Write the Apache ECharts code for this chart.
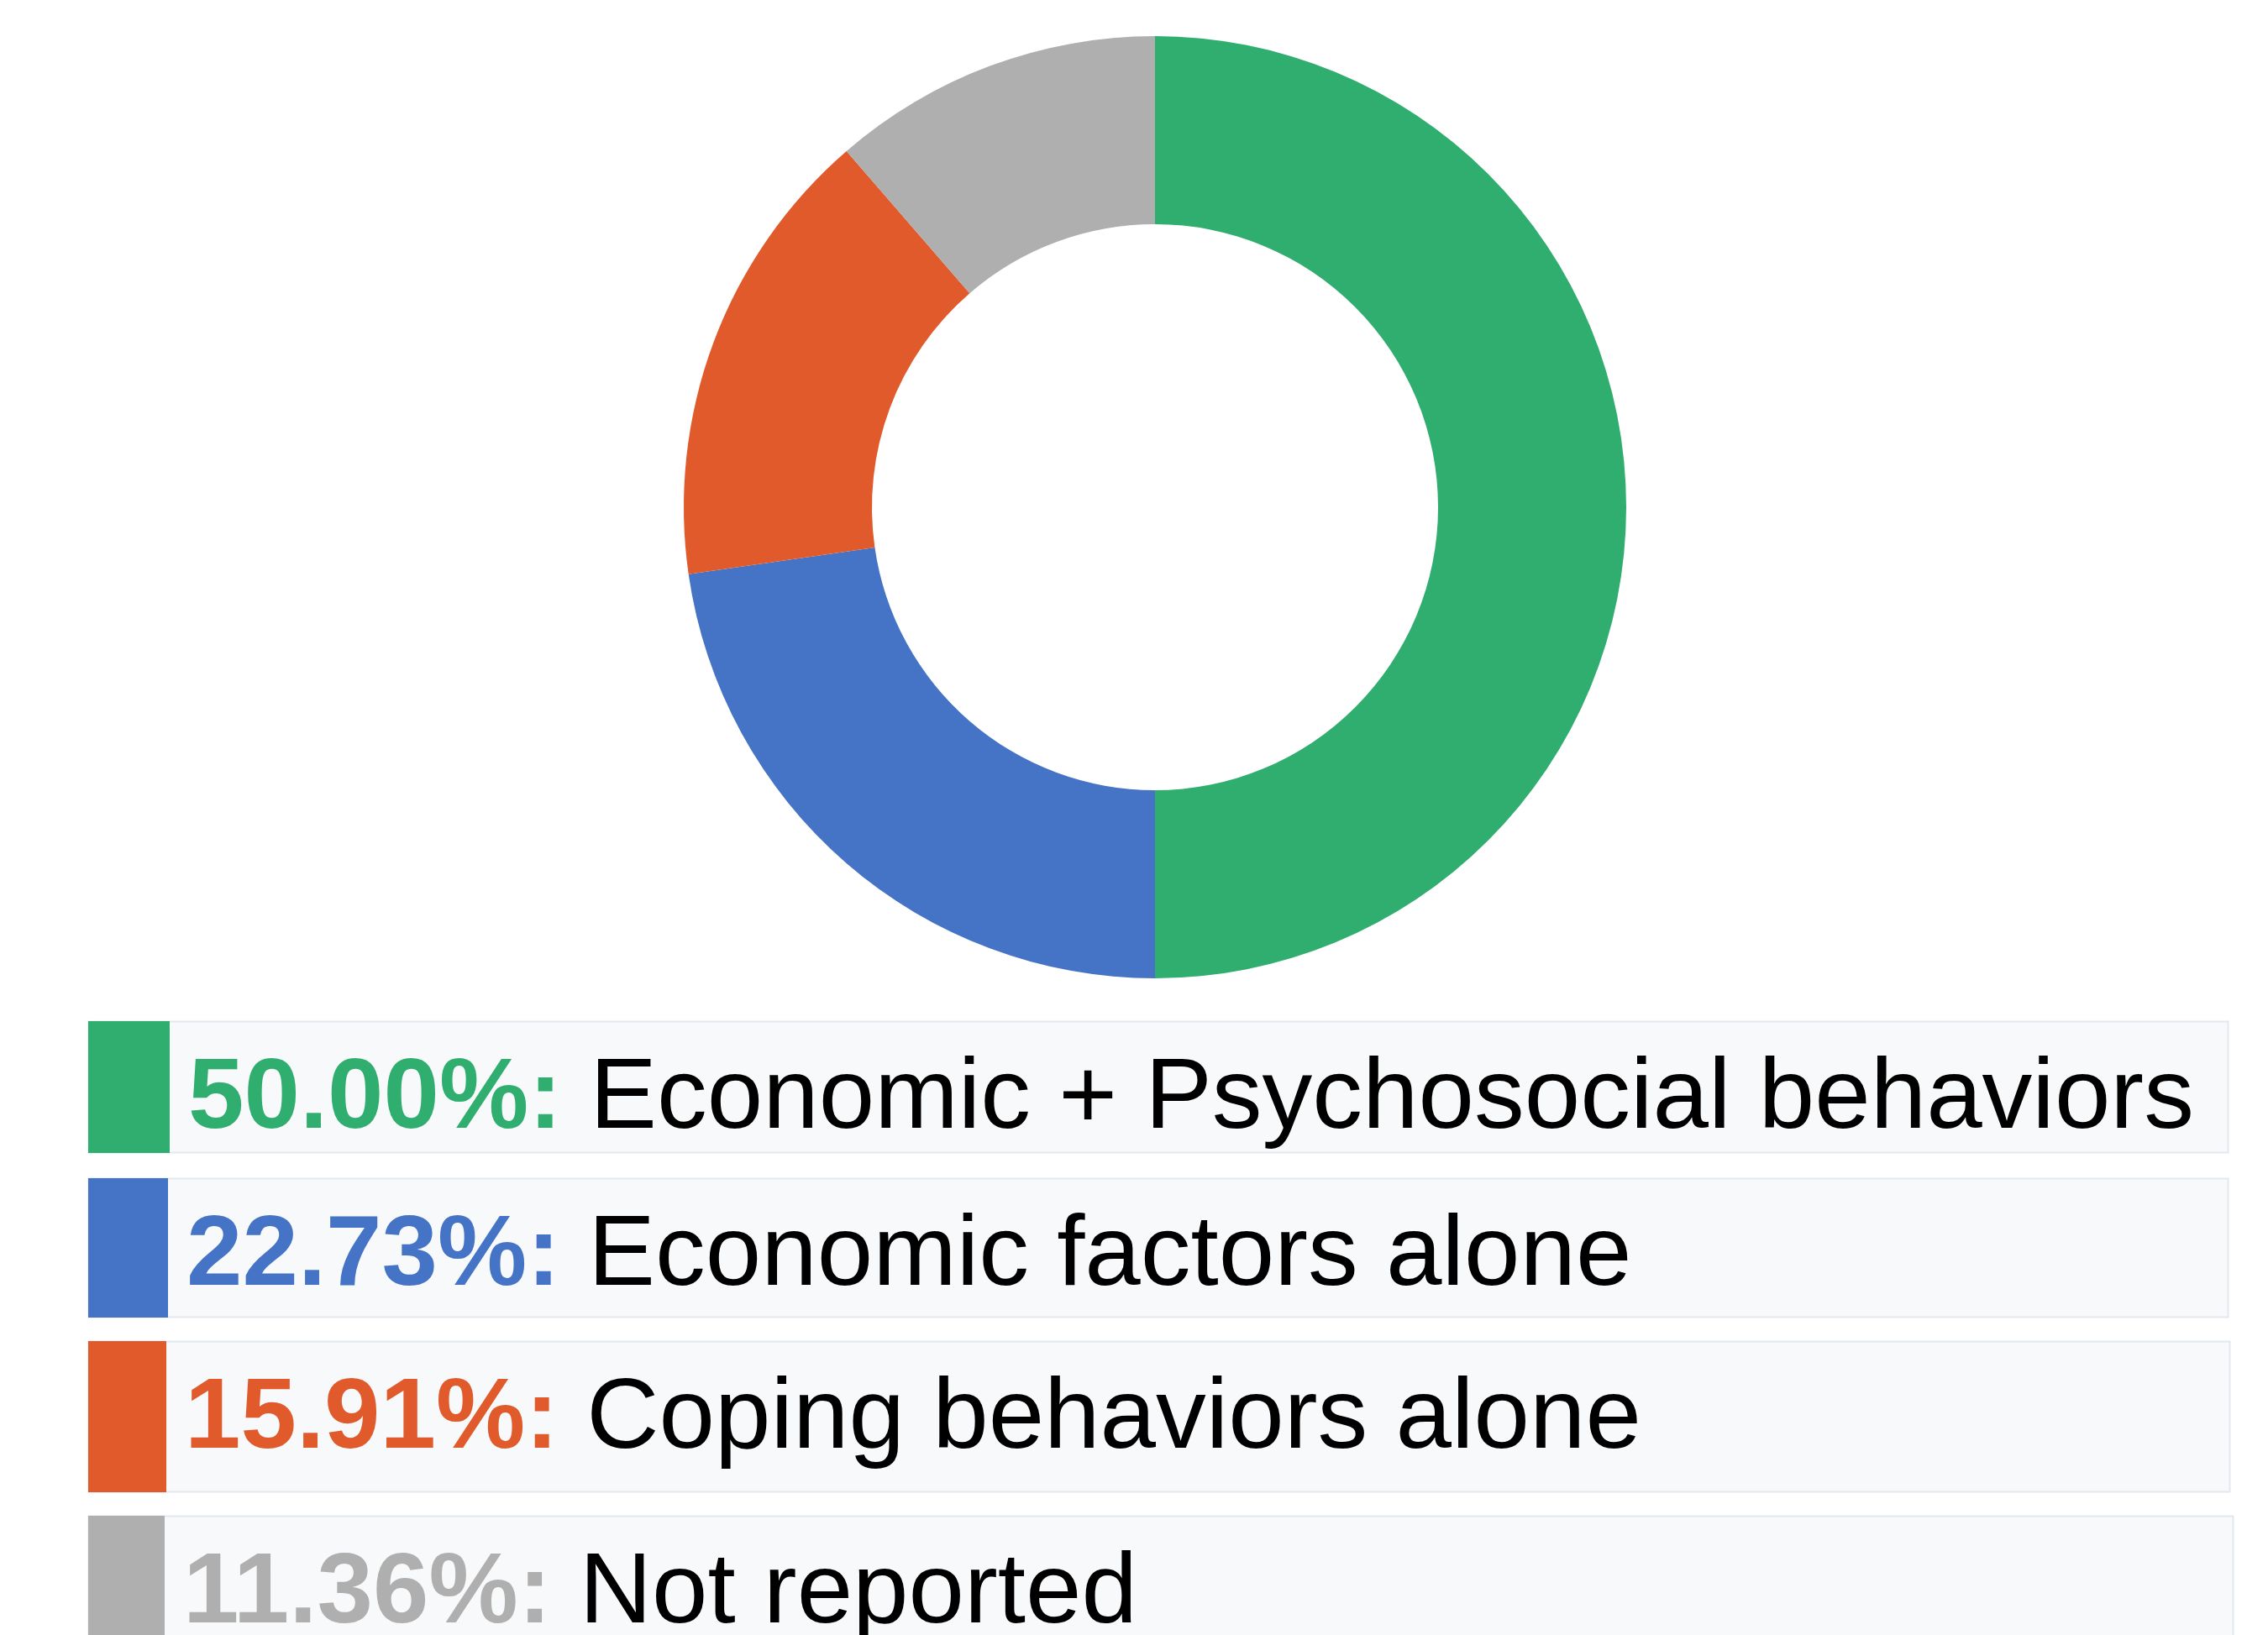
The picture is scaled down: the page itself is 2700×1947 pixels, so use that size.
<!DOCTYPE html>
<html>
<head>
<meta charset="utf-8">
<script src="https://cdn.jsdelivr.net/npm/echarts@6/dist/echarts.min.js"></script>
<style>
html,body{margin:0;padding:0;background:#fff;}
#chart{width:2700px;height:1947px;}
</style>
</head>
<body>
<div id="chart"></div>
<script>
// ---- data ----
const categories = [
  'Economic + Psychosocial behaviors',
  'Economic factors alone',
  'Coping behaviors alone',
  'Not reported'
];
const shares = [50.00, 22.73, 15.91, 11.36];
const pctLabels = ['50.00%', '22.73%', '15.91%', '11.36%'];

// ---- styles / layout (separate from data) ----
const colors = ['#30ae6f', '#4573c5', '#e05a2c', '#afafaf'];
const rowTop = [1216, 1403, 1597, 1805];
const rowHeight = [156, 165, 179, 192];
const blockWidth = [97, 95, 93, 91];
const rowRight = [2652, 2652, 2654, 2658];
const rowLeft = 105;
const FONT = 'Liberation Sans, Arial, sans-serif';
const FS = 119.5;

const chart = echarts.init(document.getElementById('chart'), null, {renderer: 'canvas'});

const graphics = [];
categories.forEach((name, i) => {
  const top = rowTop[i], h = rowHeight[i];
  graphics.push({
    type: 'rect',
    shape: {x: rowLeft + 0.5, y: top + 0.5, width: rowRight[i] - rowLeft, height: h},
    style: {fill: '#f7f9fb', stroke: '#e3e8ee', lineWidth: 2},
    z: 1
  });
  graphics.push({
    type: 'rect',
    shape: {x: rowLeft, y: top, width: blockWidth[i], height: h + 1},
    style: {fill: colors[i]},
    z: 2
  });
  graphics.push({
    type: 'text',
    x: rowLeft + blockWidth[i] + 22,
    y: top + 94,
    style: {
      text: '{p|' + pctLabels[i] + ':} {l|' + name + '}',
      verticalAlign: 'middle',
      align: 'left',
      rich: {
        p: {fontFamily: FONT, fontWeight: 'bold', fontSize: FS, fill: colors[i]},
        l: {fontFamily: FONT, fontWeight: 'normal', fontSize: FS, fill: '#000000'}
      },
      fontFamily: FONT,
      fontSize: FS
    },
    z: 3
  });
});

chart.setOption({
  animation: false,
  backgroundColor: '#ffffff',
  series: [{
    type: 'pie',
    center: [1375, 604],
    radius: [337, 561],
    startAngle: 90,
    clockwise: true,
    avoidLabelOverlap: false,
    label: {show: false},
    labelLine: {show: false},
    emphasis: {disabled: true},
    itemStyle: {borderWidth: 0},
    data: categories.map((c, i) => ({name: c, value: shares[i], itemStyle: {color: colors[i]}}))
  }],
  graphic: graphics
});
</script>
</body>
</html>
